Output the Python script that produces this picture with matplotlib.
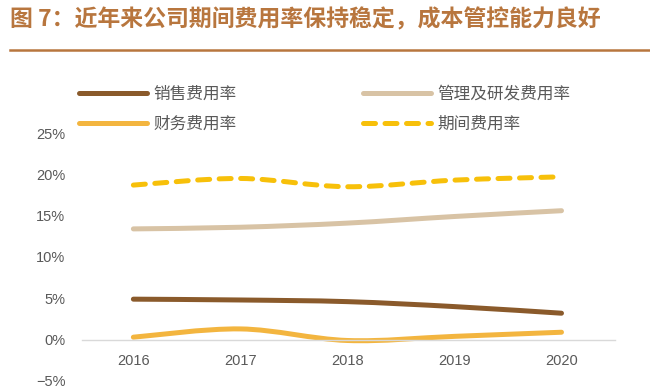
import matplotlib
matplotlib.use("Agg")
import matplotlib.pyplot as plt
from matplotlib.path import Path
from matplotlib.patches import PathPatch
from matplotlib.lines import Line2D
import numpy as np

plt.rcParams['font.family'] = ['Noto Sans CJK SC', 'DejaVu Sans']

years = [2016, 2017, 2018, 2019, 2020]
sales = [4.9, 4.8, 4.6, 4.0, 3.2]
mgmt = [13.4, 13.6, 14.1, 14.9, 15.6]
finance = [0.3, 1.3, -0.1, 0.4, 0.9]
period = [18.7, 19.5, 18.5, 19.3, 19.7]
series_names = ['销售费用率', '管理及研发费用率', '财务费用率', '期间费用率']
yticks = [-5, 0, 5, 10, 15, 20, 25]

colors = ['#8A5A2B', '#D8C3A5', '#F3B53F', '#F7C00A']
styles = ['-', '-', '-', (0, (2.4, 1.9))]
lw = 3.6

fig = plt.figure(figsize=(6.5, 3.91), dpi=100)
fig.patch.set_facecolor('white')
ax = fig.add_axes([82/650, 1-381/391, 533/650, (381-133)/391])


def smooth_path(xs, ys):
    xs = np.asarray(xs, float)
    ys = np.asarray(ys, float)
    n = len(xs)
    verts = [(xs[0], ys[0])]
    codes = [Path.MOVETO]
    for i in range(n - 1):
        x0, y0 = xs[max(i - 1, 0)], ys[max(i - 1, 0)]
        x1, y1 = xs[i], ys[i]
        x2, y2 = xs[i + 1], ys[i + 1]
        x3, y3 = xs[min(i + 2, n - 1)], ys[min(i + 2, n - 1)]
        c1 = (x1 + (x2 - x0) / 6, y1 + (y2 - y0) / 6)
        c2 = (x2 - (x3 - x1) / 6, y2 - (y3 - y1) / 6)
        verts += [c1, c2, (x2, y2)]
        codes += [Path.CURVE4] * 3
    return Path(verts, codes)


all_vals = [sales, mgmt, finance, period]
for vals, c, ls in zip(all_vals, colors, styles):
    patch = PathPatch(smooth_path(years, vals), facecolor='none', edgecolor=c,
                      linewidth=lw, linestyle=ls, capstyle='round', joinstyle='round')
    ax.add_patch(patch)

ax.set_xlim(2015.52, 2020.5)
ax.set_ylim(-5, 25)
ax.set_xticks(years)
ax.set_xticklabels([str(y) for y in years])
ax.set_yticks(yticks)
ax.set_yticklabels([f'{v}%'.replace('-', '−') for v in yticks])
for s in ['top', 'right', 'left']:
    ax.spines[s].set_visible(False)
ax.spines['bottom'].set_position(('data', 0))
ax.spines['bottom'].set_color('#D9D9D9')
ax.spines['bottom'].set_linewidth(1.0)
ax.tick_params(axis='both', length=0, colors='#595959', labelsize=10.5)
ax.tick_params(axis='x', pad=10)
ax.tick_params(axis='y', pad=12)
for lab in ax.get_xticklabels() + ax.get_yticklabels():
    lab.set_family(['Liberation Sans Narrow', 'Liberation Sans', 'DejaVu Sans'])
ax.set_facecolor('none')

# Title
fig.text(10/650, 1-20/391, '图 7：近年来公司期间费用率保持稳定，成本管控能力良好',
         color='#B8763E', fontsize=16.5, fontweight='bold', va='center', ha='left')
fig.add_artist(Line2D([10/650, 1.0], [1-50/391, 1-50/391], color='#B8763E', linewidth=1.8))

# Legend (row-major order: column filling in matplotlib)
order = [0, 2, 1, 3]
handles = [Line2D([0], [0], color=colors[i], lw=lw, linestyle=styles[i], solid_capstyle='round',
                  dash_capstyle='round') for i in order]
labels = [series_names[i] for i in order]
leg = fig.legend(handles, labels, ncol=2, loc='upper left',
                 bbox_to_anchor=(79/650, 1-86/391), frameon=False,
                 borderpad=0, borderaxespad=0,
                 handlelength=4.1, handletextpad=0.35, columnspacing=7.6,
                 labelspacing=0.75, fontsize=12, labelcolor='#595959')

fig.savefig('out.png', dpi=100, facecolor='white')
